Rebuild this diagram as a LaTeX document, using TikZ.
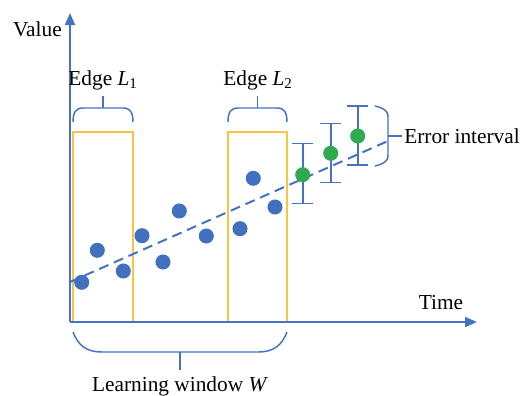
\documentclass[tikz,border=0pt]{standalone}
\usepackage{fontspec}
\setmainfont{Liberation Serif}
\usetikzlibrary{arrows.meta}
\definecolor{axisblue}{HTML}{4472C4}
\definecolor{dotblue}{HTML}{4270BF}
\definecolor{dotgreen}{HTML}{2FAA4E}
\definecolor{edgeyellow}{HTML}{FAC442}
\tikzset{
  axis/.style={draw=axisblue, line width=1.4pt, -{Triangle[length=9pt,width=7.5pt]}},
  window/.style={draw=edgeyellow, line width=1.3pt},
  brace/.style={draw=axisblue, line width=1.1pt},
  errbar/.style={draw=axisblue, line width=1.2pt},
  trend/.style={draw=axisblue, line width=1.5pt, dash pattern=on 7.5pt off 4.5pt},
  sample/.style={circle, fill=dotblue, inner sep=0pt, minimum size=11.3pt},
  forecast/.style={circle, fill=dotgreen, inner sep=0pt, minimum size=11.3pt},
  lbl/.style={font=\fontsize{16}{18}\selectfont, inner sep=0pt}
}
\begin{document}
\begin{tikzpicture}[x=0.75pt, y=-0.75pt]
\useasboundingbox (0,0) rectangle (521,396);

% learning windows at the two edges
\draw[window] (73,132) rectangle (133,322);
\draw[window] (228,132) rectangle (287,322);

% axes
\coordinate (O) at (70,322);
\coordinate (ytip) at (70,13);
\coordinate (xtip) at (477,322);
\draw[axis] (O) -- (ytip);
\draw[axis] (O) -- (xtip);
\node[lbl, anchor=east] (value) at (62,29) {Value};
\node[lbl] (time) at (441,303) {Time};

% fitted trend
\coordinate (t0) at (70,282);
\coordinate (t1) at (388,141);
\draw[trend] (t0) -- (t1);

% observed samples
\node[sample] (s1) at (81.7,282.3) {};
\node[sample] (s2) at (97.3,250.3) {};
\node[sample] (s3) at (123.3,271) {};
\node[sample] (s4) at (142,235.7) {};
\node[sample] (s5) at (163,262) {};
\node[sample] (s6) at (179.3,211) {};
\node[sample] (s7) at (206.3,236) {};
\node[sample] (s8) at (240,228.7) {};
\node[sample] (s9) at (253.3,178.3) {};
\node[sample] (s10) at (275,207) {};

% predictions with error bars
\foreach \n/\x/\t/\b in {1/302.7/143.3/203.3, 2/330.7/123.3/182.3, 3/357.7/105.7/165} {
  \coordinate (e\n t) at (\x,\t);
  \coordinate (e\n b) at (\x,\b);
  \draw[errbar] (e\n t) -- (e\n b);
  \draw[errbar] ([xshift=-8]e\n t) -- ([xshift=8]e\n t);
  \draw[errbar] ([xshift=-8]e\n b) -- ([xshift=8]e\n b);
}
\node[forecast] (p1) at (302.7,174.7) {};
\node[forecast] (p2) at (330.7,153.3) {};
\node[forecast] (p3) at (357.7,136) {};

% edge braces
\draw[brace] (73,122) .. controls (73,112) and (76,108) .. (83,108) -- (123,108)
  .. controls (130,108) and (133,112) .. (133,122);
\draw[brace] (103,108) -- (103,96);
\node[lbl] (edge1) at (103,80) {Edge \textit{L}\textsubscript{1}};
\draw[brace] (228,122) .. controls (228,112) and (231,108) .. (238,108) -- (277,108)
  .. controls (284,108) and (287,112) .. (287,122);
\draw[brace] (257.5,108) -- (257.5,96);
\node[lbl] (edge2) at (258,80) {Edge \textit{L}\textsubscript{2}};

% error interval brace
\draw[brace] (375,106) .. controls (383,108) and (388,110) .. (388,117) -- (388,155)
  .. controls (388,162) and (383,164) .. (375,166);
\draw[brace] (388,136) -- (402,136);
\node[lbl, anchor=west] (err) at (404,136) {Error interval};

% learning window brace
\draw[brace] (73,332) .. controls (78,345) and (86,352) .. (102,352) -- (258,352)
  .. controls (274,352) and (282,345) .. (287,332);
\draw[brace] (180,352) -- (180,370);
\node[lbl] (lw) at (180,386) {Learning window \textit{W}};
\end{tikzpicture}
\end{document}
